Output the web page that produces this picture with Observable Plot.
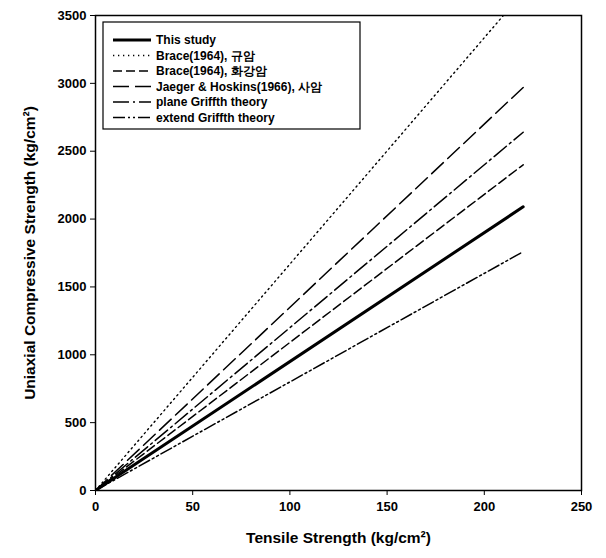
<!DOCTYPE html>
<html>
<head>
<meta charset="utf-8">
<script src="https://cdn.jsdelivr.net/npm/d3@7"></script>
<script src="https://cdn.jsdelivr.net/npm/@observablehq/plot@0.6"></script>
<style>
  html, body { margin: 0; padding: 0; background: #fff; }
  #chart svg text { font-family: "Liberation Sans", Arial, sans-serif; font-weight: bold; }
  #chart [aria-label$="axis label"] text { font-size: 15.5px; }
</style>
</head>
<body>
<div id="chart"></div>
<script>
// Series names (legend order)
const seriesNames = [
  "This study",
  "Brace(1964), 규암",
  "Brace(1964), 화강암",
  "Jaeger & Hoskins(1966), 사암",
  "plane Griffth theory",
  "extend Griffth theory"
];
// Line start/end tensile strength
const tensileX = [0, 220];
// Compressive strength at start (0) and end (220) for each series
const startY = [0, 0, 0, 0, 0, 0];
const endY = [2090, 3670, 2400, 2970, 2640, 1760];
// Tick labels
const xTicks = [0, 50, 100, 150, 200, 250];
const yTicks = [0, 500, 1000, 1500, 2000, 2500, 3000, 3500];

const dashes = ["none", "1.3,3.7", "9,4", "16,6", "16,4,2,4", "12,3,2,3,2,3"];
const widths = [3, 1.4, 1.5, 1.5, 1.5, 1.5];

const rows = [];
seriesNames.forEach((name, i) => {
  rows.push({series: name, i, x: tensileX[0], y: startY[i]});
  rows.push({series: name, i, x: tensileX[1], y: endY[i]});
});

const lineMarks = seriesNames.map((name, i) =>
  Plot.line(rows.filter(d => d.i === i), {
    x: "x", y: "y", stroke: "#000", strokeWidth: widths[i],
    strokeDasharray: dashes[i], clip: true
  })
);

const chart = Plot.plot({
  width: 606, height: 558,
  marginLeft: 95, marginRight: 25, marginTop: 15, marginBottom: 68,
  style: {fontSize: "13px", color: "#000", background: "#fff", fontWeight: "bold"},
  x: {domain: [0, 250], ticks: xTicks},
  y: {domain: [0, 3500], ticks: yTicks},
  marks: [
    Plot.frame({stroke: "#000", strokeWidth: 1.5}),
    Plot.axisX({ticks: xTicks, tickSize: 5, tickPadding: 6, label: "Tensile Strength (kg/cm²)",
      labelAnchor: "center", labelArrow: "none", labelOffset: 52, tickFormat: d3.format("d")}),
    Plot.axisY({ticks: yTicks, tickSize: 5, tickPadding: 4, label: "Uniaxial Compressive Strength (kg/cm²)",
      labelAnchor: "center", labelArrow: "none", labelOffset: 72, tickFormat: d3.format("d")}),
    ...lineMarks
  ]
});
document.getElementById("chart").appendChild(chart);

// Legend box
const svg = d3.select(chart);
const lg = svg.append("g").attr("transform", "translate(103,22)");
lg.append("rect").attr("width", 257).attr("height", 107)
  .attr("fill", "#fff").attr("stroke", "#000").attr("stroke-width", 1.2);
seriesNames.forEach((name, i) => {
  const yy = 18 + i * 15.5;
  lg.append("line").attr("x1", 10).attr("x2", 48).attr("y1", yy).attr("y2", yy)
    .attr("stroke", "#000").attr("stroke-width", i === 0 ? 3 : 1.4)
    .attr("stroke-dasharray", dashes[i] === "none" ? null : dashes[i]);
  lg.append("text").attr("x", 53).attr("y", yy).attr("dy", "0.35em")
    .attr("text-anchor", "start")
    .attr("font-size", "12px").text(name);
});
</script>
</body>
</html>
